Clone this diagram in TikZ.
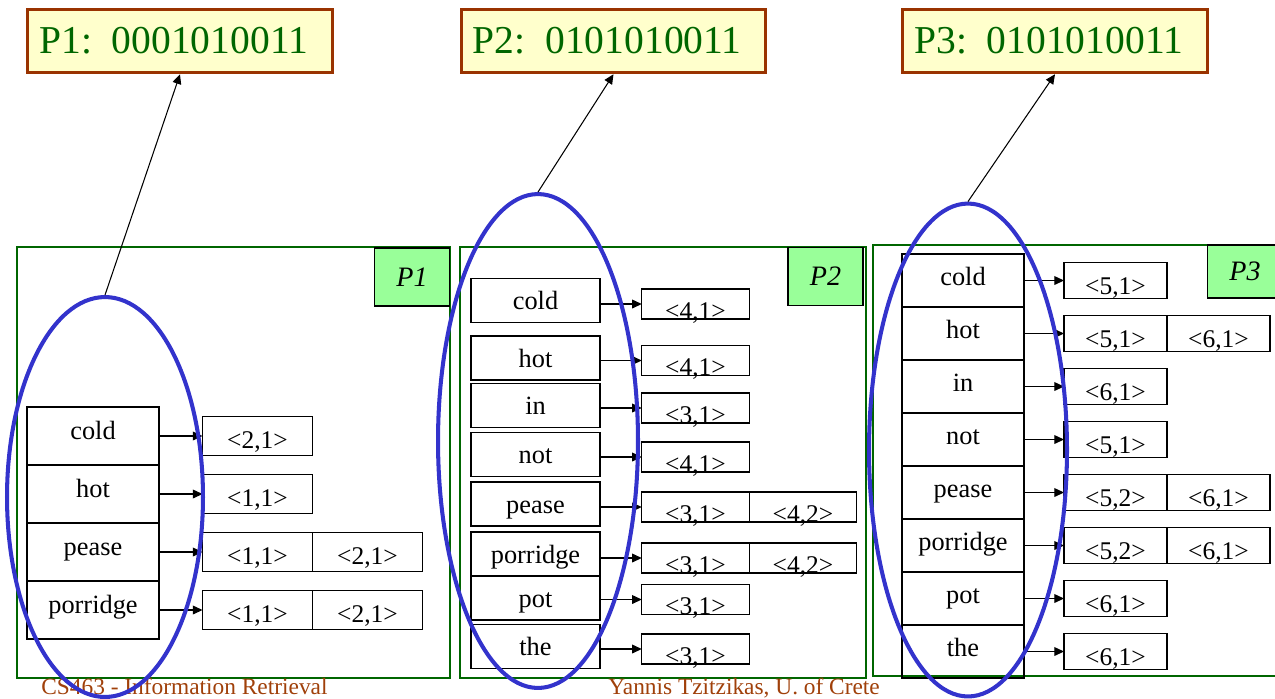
\documentclass[tikz,border=0pt]{standalone}
\usepackage{fontspec}
\setmainfont{Liberation Serif}
\usetikzlibrary{arrows.meta,positioning,shapes.geometric}
\definecolor{rust}{HTML}{993300}
\definecolor{cream}{HTML}{FFFFCC}
\definecolor{leaf}{HTML}{006600}
\definecolor{mint}{HTML}{99FF99}
\definecolor{ringblue}{HTML}{3333CC}
\definecolor{footbrown}{HTML}{A0400A}

\begin{document}
\begin{tikzpicture}[x=0.02cm,y=-0.02cm,>={Triangle[length=5.5pt,width=5pt]},
  word/.style={draw,line width=0.8pt,inner xsep=0pt,inner ysep=0pt,font=\fontsize{15}{18}\selectfont},
  post/.style={draw,line width=0.8pt,inner xsep=0pt,inner ysep=0pt,outer sep=0pt,font=\fontsize{14.5}{17}\selectfont},
  wordA/.style={word,minimum width=2.64cm,text height=0.64cm,text depth=0.52cm},
  postA/.style={post,minimum width=2.2cm,text height=0.64cm,text depth=0.14cm},
  wordB/.style={word,minimum width=2.58cm,text height=0.62cm,text depth=0.26cm},
  postB/.style={post,minimum width=2.15cm,text height=0.6cm,text depth=0cm},
  wordC/.style={word,minimum width=2.44cm,text height=0.62cm,text depth=0.44cm},
  postC/.style={post,minimum width=2.06cm,text height=0.64cm,text depth=0.08cm},
  sig/.style={draw=rust,fill=cream,line width=1.7pt,text=leaf,minimum width=6.1cm,minimum height=1.27cm,font=\fontsize{22.5}{27}\selectfont},
  tag/.style={draw,fill=mint,line width=0.8pt,minimum width=1.5cm,minimum height=1.16cm,font=\fontsize{16}{19}\selectfont\itshape},
  ring/.style={ellipse,draw=ringblue,line width=2.3pt,inner sep=0pt},
  foot/.style={anchor=base west,inner sep=0pt,text=footbrown,font=\fontsize{13.3}{15}\selectfont},
  link/.style={->,line width=0.6pt}]
  \useasboundingbox (0,0) rectangle (1275,698);

  % page frames
  \draw[leaf,line width=0.75pt] (17,247) rectangle (450,678);
  \draw[leaf,line width=0.75pt] (460,247) rectangle (866,678);
  \draw[leaf,line width=0.75pt] (873,245) rectangle (1295,676);
  \node[tag] (g1) at (412,277) {P1};
  \node[tag] (g2) at (825.5,276.5) {P2};
  \node[tag,minimum height=1.06cm] (g3) at (1245,271.5) {P3};

  % page P1
  \foreach \w/\y/\p [count=\i] in {cold/436/{<2,1>},hot/494/{<1,1>},pease/552/{<1,1>},porridge/610/{<1,1>}}{
    \node[wordA] (a\i) at (93,\y) {\w};
    \node[postA] (pa\i) at (257.5,\y) {\p};
    \draw[link] (a\i.east |- pa\i.west) -- (pa\i.west);
  }
  \node[postA,right=0pt of pa3] (qa3) {<2,1>};
  \node[postA,right=0pt of pa4] (qa4) {<2,1>};

  % page P2
  \foreach \w/\y/\v/\p [count=\i] in {cold/300.5/304/{<4,1>},hot/358/360.5/{<4,1>},in/405.5/408/{<3,1>},not/454.5/457/{<4,1>},pease/504/507/{<3,1>},porridge/554/558/{<3,1>},pot/598/599.5/{<3,1>},the/646.5/649/{<3,1>}}{
    \node[wordB] (b\i) at (535.5,\y) {\w};
    \node[postB] (pb\i) at (695.5,\v) {\p};
    \draw[link] (b\i.east |- pb\i.west) -- (pb\i.west);
  }
  \node[postB,right=0pt of pb5] (qb5) {<4,2>};
  \node[postB,right=0pt of pb6] (qb6) {<4,2>};

  % page P3
  \foreach \w/\p [count=\i] in {cold/{<5,1>},hot/{<5,1>},in/{<6,1>},not/{<5,1>},pease/{<5,2>},porridge/{<5,2>},pot/{<6,1>},the/{<6,1>}}{
    \node[wordC] (c\i) at (963,{227.5+53*\i}) {\w};
    \node[postC] (pc\i) at (1115.5,{227.5+53*\i}) {\p};
    \draw[link] (c\i.east |- pc\i.west) -- (pc\i.west);
  }
  \node[postC,right=0pt of pc2] (qc2) {<6,1>};
  \node[postC,right=0pt of pc5] (qc5) {<6,1>};
  \node[postC,right=0pt of pc6] (qc6) {<6,1>};

  % footer
  \node[foot] (f1) at (41,694) {CS463 - Information Retrieval};
  \node[foot] (f2) at (608,694) {Yannis Tzitzikas, U. of Crete};

  % signatures
  \node[ring,minimum width=3.92cm,minimum height=8cm] (e1) at (105,497) {};
  \node[ring,minimum width=4cm,minimum height=9.88cm] (e2) at (538,441) {};
  \node[ring,minimum width=3.96cm,minimum height=9.86cm] (e3) at (968,450) {};
  \node[sig] (t1) at (180,41) {P1:~~0001010011\hspace*{0.25cm}};
  \node[sig] (t2) at (613.5,41) {P2:~~0101010011\hspace*{0.25cm}};
  \node[sig] (t3) at (1055,41) {P3:~~0101010011\hspace*{0.25cm}};
  \draw[link] (e1.north) -- (t1.south);
  \draw[link] (e2.north) -- (t2.south);
  \draw[link] (e3.north) -- (t3.south);
\end{tikzpicture}
\end{document}
